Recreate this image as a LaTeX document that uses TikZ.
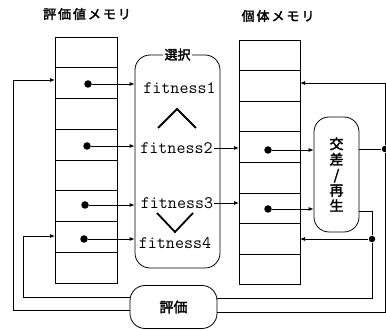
\documentclass[tikz,border=0pt]{standalone}
\usepackage{fontspec}
\newfontfamily\jp{Noto Sans CJK JP}[FakeBold=2.2]
\usetikzlibrary{arrows.meta}
\begin{document}
\begin{tikzpicture}[x=1pt,y=-1pt,line width=0.8pt,
  cell/.style={draw,minimum width=62pt,minimum height=30.75pt,inner sep=0pt,outer sep=0pt},
  rcell/.style={draw,minimum width=61pt,minimum height=30.6pt,inner sep=0pt,outer sep=0pt},
  dotc/.style={circle,fill,inner sep=0pt,minimum size=7.5pt},
  jdot/.style={circle,fill,inner sep=0pt,minimum size=6.5pt},
  arr/.style={-{Latex[length=5pt,width=4pt]}},
  fitt/.style={font=\ttfamily\fontsize{17.5}{17.5}\selectfont,inner sep=1pt},
  ttl/.style={font=\jp\fontsize{13}{13}\selectfont\addfontfeature{LetterSpace=15}},
  rbox/.style={draw,rounded corners=15pt,inner sep=0pt},
  chev/.style={line width=1.8pt}]
\useasboundingbox (0,0) rectangle (386,331);

% titles
\node[ttl] (t1) at (87,14) {評価値メモリ};
\node[ttl] (t2) at (278,16) {個体メモリ};

% memories
\foreach \i in {1,...,8} {
  \node[cell] (L\i) at (86,{37+30.75*(\i-0.5)}) {};
  \node[rcell] (R\i) at (269.5,{40+30.6*(\i-0.5)}) {};
}

% selection box
\node[rbox,minimum width=85pt,minimum height=213pt] (sel) at (177.5,161.5) {};
\node[fill=white,inner sep=1.5pt,font=\jp\fontsize{13}{13}\selectfont] (sl) at (sel.north) {選択};
\node[fitt] (f1) at (179.5,88) {fitness1};
\node[fitt] (f2) at (176.5,148) {fitness2};
\node[fitt] (f3) at (177,203) {fitness3};
\node[fitt] (f4) at (175,243) {fitness4};
\draw[chev] (158,128) -- (177,109) -- (196,128);
\draw[chev] (157,213) -- (175,232) -- (193,213);

% crossover box
\node[rbox,minimum width=45pt,minimum height=115pt] (cx) at (336.5,174.5) {};
\node[align=center,font=\jp\fontsize{14}{15.5}\selectfont,inner sep=0pt] (cxt) at (cx) {交\\差\\/\\再\\生};

% evaluation box
\node[rbox,minimum width=87pt,minimum height=43pt,font=\jp\fontsize{14}{14}\selectfont] (ev) at (173.5,307) {評価};

% dots in left memory
\node[dotc] (d1) at (88,84) {};
\node[dotc] (d2) at (87,146) {};
\node[dotc] (d3) at (85,205) {};
\node[dotc] (d4) at (84,239) {};
\foreach \d in {d1,d2,d3,d4} \draw[arr] (\d) -- (\d -| sel.west);

% selection to right memory
\draw[arr] (f2.east) -- (R4.west |- f2.east);
\draw[arr] (f3.east) -- (R6.west |- f3.east);

% dots in right memory
\node[dotc] (e1) at (268,150) {};
\node[dotc] (e2) at (268,209) {};
\draw[arr] (e1) -- (e1 -| cx.west);
\draw[arr] (e2) -- (e2 -| cx.west);

% junctions on right
\node[jdot] (j1) at (385,149) {};
\node[jdot] (j2) at (372,239) {};
\coordinate (a1) at (385,83);
\coordinate (a2) at (385,312);
\coordinate (b1) at (372,211);
\coordinate (b2) at (372,298);
\draw (cx.east |- j1) -- (j1);
\draw[arr] (j1) -- (a1) -- (R2.east |- a1);
\draw (j1) -- (a2) -- (ev.east |- a2);
\draw (cx.east |- b1) -- (b1) -- (j2);
\draw[arr] (j2) -- (R7.east |- j2);
\draw (j2) -- (b2) -- (ev.east |- b2);

% left feedback
\coordinate (c1) at (23,297);
\coordinate (c2) at (23,236);
\coordinate (c3) at (13,310);
\coordinate (c4) at (13,80);
\draw[arr] (ev.west |- c1) -- (c1) -- (c2) -- (L7.west |- c2);
\draw[arr] (ev.west |- c3) -- (c3) -- (c4) -- (L2.west |- c4);
\end{tikzpicture}
\end{document}
